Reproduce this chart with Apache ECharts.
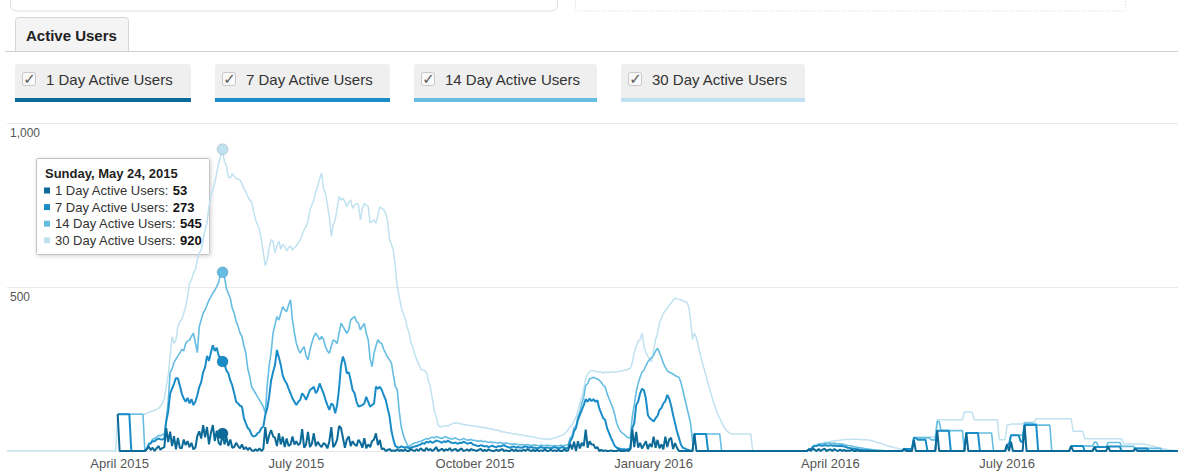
<!DOCTYPE html>
<html>
<head>
<meta charset="utf-8">
<title>Active Users</title>
<script src="https://cdn.jsdelivr.net/npm/echarts@6/dist/echarts.min.js"></script>
<style>
  html, body { margin: 0; padding: 0; background: #ffffff; }
  #chart { width: 1178px; height: 473px; }
</style>
</head>
<body>
<div id="chart"></div>
<script>
// ---- data -------------------------------------------------------------
const seriesNames = ['1 Day Active Users', '7 Day Active Users', '14 Day Active Users', '30 Day Active Users'];
const seriesColors = ['#0b6a97', '#1a8cc7', '#66bde2', '#c0e2f0'];

const axisStart = '2015-02-02';
const axisEnd = '2016-09-27';
const startLong = '2015-02-02';   // 30 day series
const startShort = '2015-03-31';  // 1, 7 and 14 day series
const hoverDate = '2015-05-24';

const tickDates = ['2015-04-01', '2015-07-01', '2015-10-01', '2016-01-01', '2016-04-01', '2016-07-01'];
const tickLabels = ['April 2015', 'July 2015', 'October 2015', 'January 2016', 'April 2016', 'July 2016'];

// daily values, one line per month
const dau = [
  112,
  0,0,0,0,0,0,0,0,0,0,0,0,0,0,6,14,3,10,0,8,15,4,9,12,70,27,59,15,45,5,
  40,10,8,35,18,30,12,25,5,10,45,60,38,79,42,73,20,55,79,30,62,25,18,53,20,42,15,35,10,12,25,
  15,8,20,5,12,3,10,2,0,5,0,8,0,6,73,22,48,64,45,40,15,54,20,44,12,38,15,20,44,20,
  30,18,24,67,10,20,58,12,22,54,15,28,18,12,24,20,8,30,73,12,20,35,76,70,40,10,35,44,15,30,20,
  15,34,25,10,39,8,20,12,30,35,54,18,34,5,8,0,3,6,0,2,0,5,0,3,0,4,0,0,6,2,0,
  5,0,8,3,0,10,2,6,0,4,12,0,3,7,0,5,2,9,0,4,6,0,3,8,0,2,5,0,6,3,
  2,0,4,6,0,3,0,5,2,0,0,4,0,3,6,0,2,0,0,5,0,3,0,2,0,4,0,6,2,0,3,
  0,3,0,2,0,5,0,0,4,0,2,0,3,0,0,6,0,2,22,5,28,0,30,8,25,15,65,10,30,20,
  20,8,12,0,3,0,2,0,0,2,0,0,0,3,0,0,0,2,0,5,66,12,58,10,25,8,18,30,6,22,12,
  44,10,34,8,20,5,44,12,35,40,6,24,10,0,0,0,0,0,0,0,0,52,0,0,0,0,0,0,0,0,0,
  0,0,0,0,0,0,0,0,0,0,0,0,0,0,0,0,0,0,0,0,0,0,0,0,0,0,0,0,0,
  0,0,0,0,0,0,0,0,0,0,0,0,0,0,0,0,0,0,0,0,5,0,8,3,0,6,0,4,7,0,3,
  5,0,6,2,0,4,0,3,0,2,0,4,0,0,2,0,0,0,0,0,0,0,0,0,0,0,0,0,0,0,
  0,0,0,0,0,0,0,0,6,0,0,0,0,34,0,0,0,0,0,0,0,0,0,0,0,62,0,0,0,0,0,
  0,0,0,0,0,0,0,0,0,55,0,0,0,0,0,0,0,0,0,0,0,0,0,0,0,0,0,0,0,0,
  20,0,28,0,0,0,0,0,0,79,0,0,0,0,0,0,0,0,0,0,0,0,0,0,0,0,0,0,0,0,0,
  0,0,15,0,0,0,0,0,0,0,0,0,0,0,12,0,0,0,0,0,0,14,0,0,0,0,0,0,0,0,0,
  0,0,0,0,8,0,0,0,0,0,0,0,0,0,0,0,0,0,0,0,0,0,0,0,0,0,0
];

const wau = [
  112,
  112,112,112,112,112,112,0,0,0,0,0,0,0,0,6,20,23,30,30,35,38,36,35,38,90,120,175,190,205,222,
  222,200,175,160,150,162,145,158,140,150,170,195,210,240,255,290,275,300,322,305,315,290,285,273,265,245,237,215,200,176,150,
  145,138,135,100,84,70,64,49,44,46,54,58,70,74,110,130,165,215,240,262,308,285,262,230,215,206,190,176,160,150,
  140,150,156,176,168,156,170,186,190,196,176,185,206,190,176,156,140,125,145,140,115,140,190,260,288,270,237,240,215,185,176,
  150,135,138,140,145,165,150,135,140,145,196,190,196,186,170,156,130,105,60,34,15,12,10,14,12,10,12,8,10,12,14,
  15,18,20,24,22,28,26,30,25,28,32,30,28,25,30,27,32,28,25,24,26,22,25,24,28,26,22,24,25,20,
  18,16,15,18,16,14,15,12,14,16,13,12,15,14,16,18,14,12,10,12,14,10,12,11,10,12,14,12,10,12,10,
  10,8,10,12,10,9,11,10,8,10,12,10,8,10,12,10,8,10,30,40,60,70,95,110,125,140,158,150,160,152,
  158,150,155,130,115,100,95,70,55,40,28,15,10,8,6,5,5,4,6,8,70,85,140,150,175,190,185,160,110,100,95,
  90,100,107,125,131,145,152,171,160,138,110,85,60,40,20,10,8,5,3,0,0,52,52,52,52,52,52,52,0,0,0,
  0,0,0,0,0,0,0,0,0,0,0,0,0,0,0,0,0,0,0,0,0,0,0,0,0,0,0,0,0,
  0,0,0,0,0,0,0,0,0,0,0,0,0,0,0,0,0,0,0,0,5,5,13,16,16,18,17,16,18,17,16,
  18,16,17,16,15,16,15,14,12,10,9,8,7,6,5,4,3,2,2,2,2,0,0,0,0,0,0,0,0,0,
  0,0,0,0,0,0,0,0,6,6,6,6,6,40,40,34,34,34,34,34,0,0,0,0,0,62,62,62,62,62,62,
  62,0,0,0,0,0,0,0,0,55,55,55,55,55,55,55,0,0,0,0,0,0,0,0,0,0,0,0,0,0,
  20,20,48,48,48,48,48,28,28,79,79,79,79,79,79,79,0,0,0,0,0,0,0,0,0,0,0,0,0,0,0,
  0,0,15,15,15,15,15,15,15,0,0,0,0,0,12,12,12,12,12,12,12,14,14,14,14,14,14,14,0,0,0,
  0,0,0,0,8,8,8,8,8,8,8,0,0,0,0,0,0,0,0,0,0,0,0,0,0,0,0
];

const biwau = [
  112,
  112,112,112,112,112,112,112,112,112,112,112,112,112,0,6,22,26,36,38,42,48,46,50,52,95,150,240,250,270,280,
  290,298,310,305,328,335,338,350,359,330,300,379,400,420,430,445,460,470,481,490,501,515,540,545,530,495,480,465,435,420,395,
  380,360,349,320,298,250,227,195,186,176,165,156,145,135,115,200,260,300,359,385,410,399,420,440,430,425,445,461,400,360,
  328,310,298,310,318,290,278,308,330,349,359,350,339,349,340,318,305,298,320,339,335,328,359,390,380,369,359,370,400,405,410,
  395,389,369,380,389,359,339,280,257,298,320,339,330,328,310,298,285,278,267,230,196,186,120,74,50,34,20,13,18,22,25,
  25,28,30,32,35,38,36,40,42,40,44,42,40,38,42,44,40,38,36,38,40,36,34,35,38,36,33,34,35,32,
  33,30,30,32,28,30,28,26,28,25,27,25,24,26,24,22,25,23,22,20,22,21,20,18,20,19,18,20,18,17,18,
  18,17,16,18,17,16,18,17,16,15,17,16,15,18,17,16,18,20,40,45,72,75,105,120,145,165,200,205,220,222,
  225,222,220,215,210,200,196,175,160,145,130,110,84,70,60,54,50,44,40,42,105,140,180,206,225,240,247,260,272,280,285,
  293,305,313,300,285,267,255,245,240,238,235,230,227,225,210,186,160,135,110,84,30,52,52,52,52,52,52,52,52,52,52,
  52,52,52,52,0,0,0,0,0,0,0,0,0,0,0,0,0,0,0,0,0,0,0,0,0,0,0,0,0,
  0,0,0,0,0,0,0,0,0,0,0,0,0,0,0,0,0,0,0,0,5,5,13,16,16,22,22,22,24,23,24,
  24,23,24,22,22,21,21,20,18,17,16,15,13,12,11,10,9,8,7,6,5,5,4,4,3,2,2,1,1,0,
  0,0,0,0,0,0,0,0,6,6,6,6,6,40,40,40,40,40,40,40,40,40,34,34,34,90,90,62,62,62,62,
  62,62,62,62,62,62,62,62,0,55,55,55,55,55,55,55,55,55,55,55,55,55,55,0,0,0,0,0,0,0,
  20,20,48,48,48,48,48,48,48,85,85,85,85,85,82,82,79,79,79,79,79,79,79,0,0,0,0,0,0,0,0,
  0,0,15,15,15,15,15,15,15,15,15,15,15,15,27,27,12,12,12,12,12,26,26,26,26,26,26,26,14,14,14,
  14,14,14,14,8,8,8,8,8,8,8,8,8,8,8,8,8,8,0,0,0,0,0,0,0,0,0
];

const mau = [
  0,0,0,0,0,0,0,0,0,0,0,0,0,0,0,0,0,0,0,0,0,0,0,0,0,0,0,
  0,0,0,0,0,0,0,0,0,0,0,0,0,0,0,0,0,0,0,0,0,0,0,0,0,0,0,0,0,0,112,
  112,112,112,112,112,112,112,112,112,112,112,112,112,112,115,118,120,122,124,127,130,136,145,160,196,230,288,349,328,339,
  379,395,400,420,440,471,512,522,542,553,583,603,613,644,674,695,746,776,796,817,847,878,898,920,880,870,835,832,845,838,830,
  830,825,815,800,790,776,765,760,730,705,690,674,644,604,565,583,620,644,640,604,625,640,615,630,625,610,620,625,612,620,
  625,635,644,660,674,684,700,735,750,765,790,806,830,847,800,786,750,715,654,690,705,740,776,765,770,760,745,760,765,740,750,
  755,750,705,740,755,750,745,695,700,705,695,720,744,740,735,725,700,644,630,610,560,500,470,439,420,405,380,360,330,317,295,
  278,265,250,247,245,240,215,195,160,125,104,80,73,75,76,78,76,80,82,85,86,85,84,82,81,80,79,78,77,77,
  76,74,75,72,73,70,71,68,67,68,64,63,64,60,58,59,56,55,56,53,52,53,50,49,50,47,46,47,44,44,43,
  42,40,38,38,36,37,35,37,36,38,40,42,44,46,48,52,58,65,73,80,92,104,125,145,165,190,220,235,242,245,
  245,243,240,242,240,238,240,241,239,240,242,240,241,243,244,245,246,247,250,252,270,300,320,335,339,359,318,300,288,280,272,
  308,340,359,390,405,420,428,435,445,450,460,466,464,462,461,458,456,455,440,400,340,360,345,320,295,270,250,230,205,185,165,
  145,128,112,100,88,75,66,60,55,52,52,52,52,52,52,52,52,52,52,52,0,0,0,0,0,0,0,0,0,
  0,0,0,0,0,0,0,0,0,0,0,0,0,0,0,0,0,0,0,0,5,5,13,16,16,22,22,24,26,27,28,
  29,30,31,32,32,33,34,34,35,35,35,36,36,36,36,35,35,34,34,34,33,32,30,28,26,25,23,21,19,17,
  15,13,12,10,9,7,6,5,8,8,6,6,6,43,43,43,43,43,43,43,43,43,43,43,43,95,95,95,95,95,95,
  95,95,95,95,95,95,95,95,119,119,119,119,119,95,95,95,95,95,95,95,95,95,95,95,95,95,34,34,34,34,
  79,79,82,82,82,82,82,82,82,88,88,88,88,88,88,98,98,98,98,98,98,98,98,98,98,98,98,98,98,98,98,
  98,98,98,60,60,60,60,60,60,37,37,37,37,37,37,37,37,37,37,37,37,37,37,37,37,37,37,37,37,21,21,
  21,21,21,21,21,21,21,21,21,21,19,18,16,15,13,12,10,9,7,6,5,4,3,2,2,1,1
];

// ---- helpers ------------------------------------------------------------
const DAY = 86400000;
const ts = s => Date.parse(s + 'T00:00:00Z');
// x positions are day numbers counted from the first day on the axis
const dayNo = s => Math.round((ts(s) - ts(axisStart)) / DAY);
const toPairs = (start, values) => {
  const d0 = dayNo(start);
  return values.map((v, k) => [d0 + k, v]);
};
const valueOn = (start, values, date) => values[dayNo(date) - dayNo(start)];

const seriesValues = [dau, wau, biwau, mau];
const seriesStarts = [startShort, startShort, startShort, startLong];
const hoverDay = dayNo(hoverDate);
const hoverValues = seriesValues.map((vals, k) => valueOn(seriesStarts[k], vals, hoverDate));

const tickMap = {};
tickDates.forEach((d, k) => { tickMap[dayNo(d)] = tickLabels[k]; });

const FONT = '"Liberation Sans", Arial, Helvetica, sans-serif';

// ---- page chrome, legend and hover box drawn as graphics ----------------
const graphics = [];
// panels above (only their lower edges are in view)
graphics.push({ type: 'rect', shape: { x: 10.5, y: -40, width: 547, height: 51, r: 6 },
  style: { fill: '#ffffff', stroke: '#dedede', lineWidth: 1 } });
graphics.push({ type: 'rect', shape: { x: 575.5, y: -40, width: 550, height: 51, r: 2 },
  style: { fill: '#ffffff', stroke: '#d4d4d4', lineWidth: 1, lineDash: [1, 2] } });
// tab
graphics.push({ type: 'rect', shape: { x: 15.5, y: 17.5, width: 113, height: 34, r: [3, 3, 0, 0] },
  style: { fill: '#f4f4f4', stroke: '#d6d6d6', lineWidth: 1 } });
graphics.push({ type: 'line', shape: { x1: 5, y1: 51.5, x2: 1178, y2: 51.5 },
  style: { stroke: '#d0d0d0', lineWidth: 1 } });
graphics.push({ type: 'text', style: { x: 26, y: 35, text: 'Active Users', font: 'bold 15px ' + FONT,
  fill: '#222222', align: 'left', verticalAlign: 'middle' } });

// legend toggles
const toggleBoxes = [{ x: 15, w: 176 }, { x: 215, w: 175 }, { x: 414, w: 183 }, { x: 621, w: 184 }];
toggleBoxes.forEach((b, k) => {
  graphics.push({ type: 'rect', shape: { x: b.x, y: 64, width: b.w, height: 38, r: [3, 3, 0, 0] },
    style: { fill: '#efefef' } });
  graphics.push({ type: 'rect', shape: { x: b.x, y: 98, width: b.w, height: 4 },
    style: { fill: seriesColors[k] } });
  graphics.push({ type: 'rect', shape: { x: b.x + 7.5, y: 72.5, width: 13, height: 13, r: 2 },
    style: { fill: '#f9f9f9', stroke: '#c9c9c9', lineWidth: 1 } });
  graphics.push({ type: 'text', style: { x: b.x + 14.5, y: 78.5, text: '\u2713',
    font: '15px "DejaVu Sans", sans-serif', fill: '#5a5a5a', align: 'center', verticalAlign: 'middle' } });
  graphics.push({ type: 'text', style: { x: b.x + 31, y: 79.5, text: seriesNames[k],
    font: '15px ' + FONT, fill: '#333333', align: 'left', verticalAlign: 'middle' } });
});

// hover details box
const hoverTitle = new Date(ts(hoverDate)).toLocaleDateString('en-US',
  { weekday: 'long', month: 'long', day: 'numeric', year: 'numeric', timeZone: 'UTC' });
const tipChildren = [
  { type: 'rect', shape: { x: 36.5, y: 158.5, width: 173, height: 96, r: 1 },
    style: { fill: '#ffffff', stroke: '#c4c4c4', lineWidth: 1,
      shadowBlur: 4, shadowColor: 'rgba(0,0,0,0.18)', shadowOffsetX: 1, shadowOffsetY: 1 } },
  { type: 'text', style: { x: 45, y: 173, text: hoverTitle, font: 'bold 13px ' + FONT,
    fill: '#222222', align: 'left', verticalAlign: 'middle' } }
];
seriesNames.forEach((name, k) => {
  const yRow = 190.5 + k * 16.6;
  tipChildren.push({ type: 'rect', shape: { x: 44, y: yRow - 3, width: 6, height: 6 },
    style: { fill: seriesColors[k] } });
  tipChildren.push({ type: 'text', style: { x: 55, y: yRow,
    text: '{n|' + name + ': }{b|' + hoverValues[k] + '}',
    align: 'left', verticalAlign: 'middle',
    rich: { n: { font: '13px ' + FONT, fill: '#333333' }, b: { font: 'bold 13px ' + FONT, fill: '#111111' } } } });
});
graphics.push({ type: 'group', z: 100, children: tipChildren });

// ---- series ------------------------------------------------------------
const lineWidths = [2, 2, 1.6, 1.5];
const series = [3, 2, 1, 0].map(k => ({
  name: seriesNames[k],
  type: 'line',
  data: toPairs(seriesStarts[k], seriesValues[k]),
  showSymbol: false,
  symbol: 'none',
  silent: true,
  animation: false,
  z: 2 + (3 - k),
  lineStyle: { color: seriesColors[k], width: lineWidths[k] },
  itemStyle: { color: seriesColors[k] },
  markPoint: {
    silent: true,
    animation: false,
    symbol: 'circle',
    symbolSize: 11,
    label: { show: false },
    itemStyle: { color: seriesColors[k], borderColor: 'rgba(0,0,0,0.12)', borderWidth: 1 },
    data: [{ coord: [hoverDay, hoverValues[k]] }]
  }
}));

const chart = echarts.init(document.getElementById('chart'), null, { renderer: 'svg' });
chart.setOption({
  animation: false,
  backgroundColor: '#ffffff',
  grid: { left: 7, right: 0, top: 123, bottom: 22, containLabel: false },
  xAxis: {
    type: 'value',
    min: 0,
    max: dayNo(axisEnd),
    axisLine: { show: false },
    axisTick: { show: false },
    splitLine: { show: false },
    axisLabel: {
      customValues: tickDates.map(dayNo),
      formatter: v => tickMap[v] || '',
      color: '#555555',
      fontSize: 13,
      fontFamily: FONT,
      margin: 6,
      hideOverlap: false
    }
  },
  yAxis: {
    type: 'value',
    min: 0,
    max: 1000,
    interval: 500,
    axisLine: { show: false },
    axisTick: { show: false },
    splitLine: { lineStyle: { color: '#e9e9e9', width: 1 } },
    axisLabel: {
      inside: true,
      margin: 3,
      verticalAlign: 'top',
      padding: [4, 0, 0, 0],
      color: '#555555',
      fontSize: 12,
      fontFamily: FONT,
      formatter: v => (v === 0 ? '' : v.toLocaleString('en-US'))
    }
  },
  series: series,
  graphic: graphics
});
</script>
</body>
</html>
